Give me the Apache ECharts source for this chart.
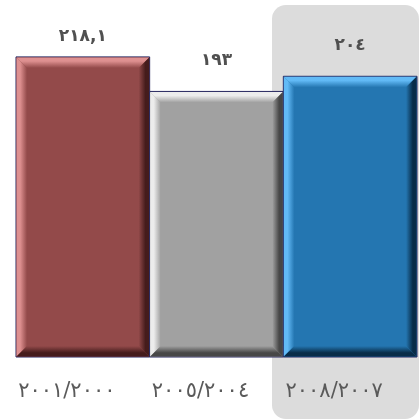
<!DOCTYPE html>
<html>
<head>
<meta charset="utf-8">
<script src="https://cdn.jsdelivr.net/npm/echarts@6/dist/echarts.min.js"></script>
<style>
  html, body { margin: 0; padding: 0; background: #fff; }
  #main { width: 420px; height: 420px; }
</style>
</head>
<body>
<div id="main"></div>
<script>
const categories = ['٢٠٠١/٢٠٠٠', '٢٠٠٥/٢٠٠٤', '٢٠٠٨/٢٠٠٧'];
const values = [218.1, 193, 204];
// main, light bevel, dark bevel
const palette = [
  ['#934a4a', '#de9090', '#451c1c'],
  ['#a1a1a1', '#ececec', '#474747'],
  ['#2476b1', '#62baf6', '#082c48']
];

function toArabic(v) {
  const digits = '٠١٢٣٤٥٦٧٨٩';
  return String(v).replace(/[0-9]/g, d => digits[+d]).replace('.', ',');
}

const myChart = echarts.init(document.getElementById('main'));

function renderBar(params, api) {
  const i = api.value(0);
  const top = api.coord([i, api.value(1)]);
  const base = api.coord([i, 0]);
  const w = api.size([1, 0])[0];
  const x0 = top[0] - w / 2, x1 = top[0] + w / 2;
  const y0 = top[1], y1 = base[1];
  const b = 11;
  const c = palette[i];
  const poly = (pts, fill) => ({ type: 'polygon', shape: { points: pts }, style: { fill: fill } });
  const grad = (x, y, x2, y2, a, z) => new echarts.graphic.LinearGradient(x, y, x2, y2, [
    { offset: 0, color: a }, { offset: 0.35, color: a }, { offset: 1, color: z }
  ]);
  const labelY = Math.max(y0 - 31, 37);
  return {
    type: 'group',
    children: [
      { type: 'rect', shape: { x: x0, y: y0, width: w, height: y1 - y0 }, style: { fill: c[0], stroke: '#262660', lineWidth: 1 } },
      poly([[x0 + 0.5, y0 + 0.5], [x1 - 0.5, y0 + 0.5], [x1 - b, y0 + b], [x0 + b, y0 + b]], grad(0, 0, 0, 1, c[1], c[0])),
      poly([[x0 + 0.5, y0 + 0.5], [x0 + b, y0 + b], [x0 + b, y1 - b], [x0 + 0.5, y1 - 0.5]], grad(0, 0, 1, 0, c[1], c[0])),
      poly([[x1 - 0.5, y0 + 0.5], [x1 - 0.5, y1 - 0.5], [x1 - b, y1 - b], [x1 - b, y0 + b]], grad(1, 0, 0, 0, c[2], c[0])),
      poly([[x0 + 0.5, y1 - 0.5], [x1 - 0.5, y1 - 0.5], [x1 - b, y1 - b], [x0 + b, y1 - b]], grad(0, 1, 0, 0, c[2], c[0])),
      {
        type: 'text',
        style: {
          x: top[0], y: labelY, text: toArabic(api.value(1)),
          align: 'center', verticalAlign: 'middle',
          fill: '#505050', font: 'bold 17px "DejaVu Sans"'
        }
      }
    ]
  };
}

const option = {
  animation: false,
  graphic: [{
    type: 'rect', z: -1,
    shape: { x: 272, y: 5, width: 147, height: 414, r: 14 },
    style: { fill: '#dcdcdc' }
  }],
  grid: { left: 16, right: 3, top: 13, bottom: 63 },
  xAxis: {
    type: 'category',
    data: categories,
    axisLine: { show: false },
    axisTick: { show: false },
    axisLabel: {
      color: '#5a5a5a', fontSize: 21, fontFamily: 'DejaVu Sans', margin: 24,
      padding: [0, 32, 0, 0]
    }
  },
  yAxis: {
    type: 'value', min: 0, max: 250,
    show: false,
    splitLine: { show: false }
  },
  series: [{
    type: 'custom',
    renderItem: renderBar,
    encode: { x: 0, y: 1 },
    data: values.map((v, i) => [i, v])
  }]
};
myChart.setOption(option);
</script>
</body>
</html>
